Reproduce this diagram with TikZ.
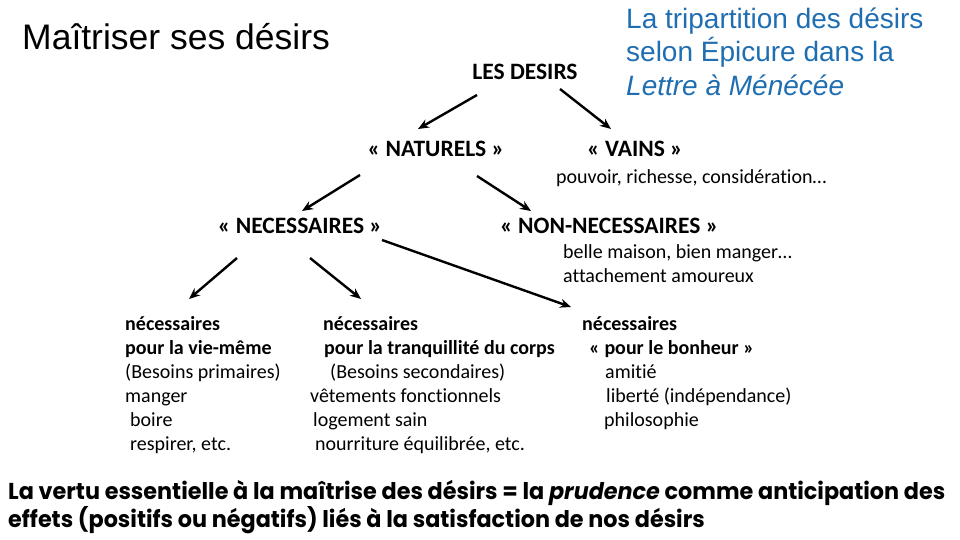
\documentclass[tikz,border=0pt]{standalone}
\usepackage{fontspec}
\setmainfont{Carlito}[Ligatures=NoCommon]
\newfontfamily\arialfont{Liberation Sans}
\newfontfamily\futfont{Poppins}
\usetikzlibrary{arrows.meta}
\definecolor{titleblue}{RGB}{31,110,178}
\tikzset{
  arr/.style={line width=2.4pt,-{Stealth[length=11pt,width=9pt]}},
  head/.style={anchor=base,inner sep=0pt,font=\fontsize{23.5}{28}\selectfont\bfseries},
  body/.style={anchor=base west,inner sep=0pt,font=\fontsize{20}{24}\selectfont},
  bbody/.style={body,font=\fontsize{20}{24}\selectfont\bfseries},
  title/.style={anchor=base west,inner sep=0pt,font=\arialfont\fontsize{35.5}{40}\selectfont},
  btitle/.style={anchor=base west,inner sep=0pt,text=titleblue,font=\arialfont\fontsize{28}{33}\selectfont},
  foot/.style={anchor=base west,inner sep=0pt,font=\futfont\bfseries\fontsize{23}{28}\selectfont}
}
\begin{document}
\begin{tikzpicture}[x=1pt,y=-1pt]
\useasboundingbox (0,0) rectangle (960,540);
\node[title] (t) at (22,50) {Maîtriser ses désirs};
\node[btitle] (b1) at (626,29) {La tripartition des désirs};
\node[btitle] (b2) at (626,62) {selon Épicure dans la};
\node[btitle] (b3) at (626,96) {\itshape Lettre à Ménécée};

\node[head] (desirs) at (525,80) {LES DESIRS};
\node[head] (nat) at (436,157) {« NATURELS »};
\node[head] (vains) at (635,157) {« VAINS »};
\node[body] (pouv) at (556,183) {pouvoir, richesse, considération…};
\node[head] (nec) at (300,233) {« NECESSAIRES »};
\node[head,anchor=base west] (nonnec) at (500,233) {« NON-NECESSAIRES »};
\node[body] (belle) at (563,258) {belle maison, bien manger…};
\node[body] (attach) at (563,282) {attachement amoureux};

\node[bbody] (c1a) at (125,330) {nécessaires};
\node[bbody] (c1b) at (125,354) {pour la vie-même};
\node[body] (c1c) at (125,378) {(Besoins primaires)};
\node[body] (c1d) at (125,402) {manger};
\node[body] (c1e) at (130,426) {boire};
\node[body] (c1f) at (130,450) {respirer, etc.};

\node[bbody] (c2a) at (323,330) {nécessaires};
\node[bbody] (c2b) at (324,354) {pour la tranquillité du corps};
\node[body] (c2c) at (330,378) {(Besoins secondaires)};
\node[body] (c2d) at (310,402) {vêtements fonctionnels};
\node[body] (c2e) at (313,426) {logement sain};
\node[body] (c2f) at (315,450) {nourriture équilibrée, etc.};

\node[bbody] (c3a) at (582,330) {nécessaires};
\node[bbody] (c3b) at (589,354) {« pour le bonheur »};
\node[body] (c3c) at (605,378) {amitié};
\node[body] (c3d) at (606,402) {liberté (indépendance)};
\node[body] (c3e) at (604,426) {philosophie};

\node[foot] (f1) at (8,499) {\scalebox{0.97}[1]{La vertu essentielle à la maîtrise des désirs = la \textit{prudence} comme anticipation des}};
\node[foot] (f2) at (8,527) {\scalebox{0.97}[1]{effets (positifs ou négatifs) liés à la satisfaction de nos désirs}};

\coordinate (a1s) at (477,95);  \coordinate (a1e) at (418,129);
\coordinate (a2s) at (560,89);  \coordinate (a2e) at (611,129);
\coordinate (a3s) at (360,175); \coordinate (a3e) at (302,211);
\coordinate (a4s) at (477,176); \coordinate (a4e) at (531,211);
\coordinate (a5s) at (237,258); \coordinate (a5e) at (189,299);
\coordinate (a6s) at (310,258); \coordinate (a6e) at (361,299);
\coordinate (a7s) at (382,240); \coordinate (a7e) at (571,307);
\draw[arr] (a1s) -- (a1e);
\draw[arr] (a2s) -- (a2e);
\draw[arr] (a3s) -- (a3e);
\draw[arr] (a4s) -- (a4e);
\draw[arr] (a5s) -- (a5e);
\draw[arr] (a6s) -- (a6e);
\draw[arr] (a7s) -- (a7e);
\end{tikzpicture}
\end{document}
